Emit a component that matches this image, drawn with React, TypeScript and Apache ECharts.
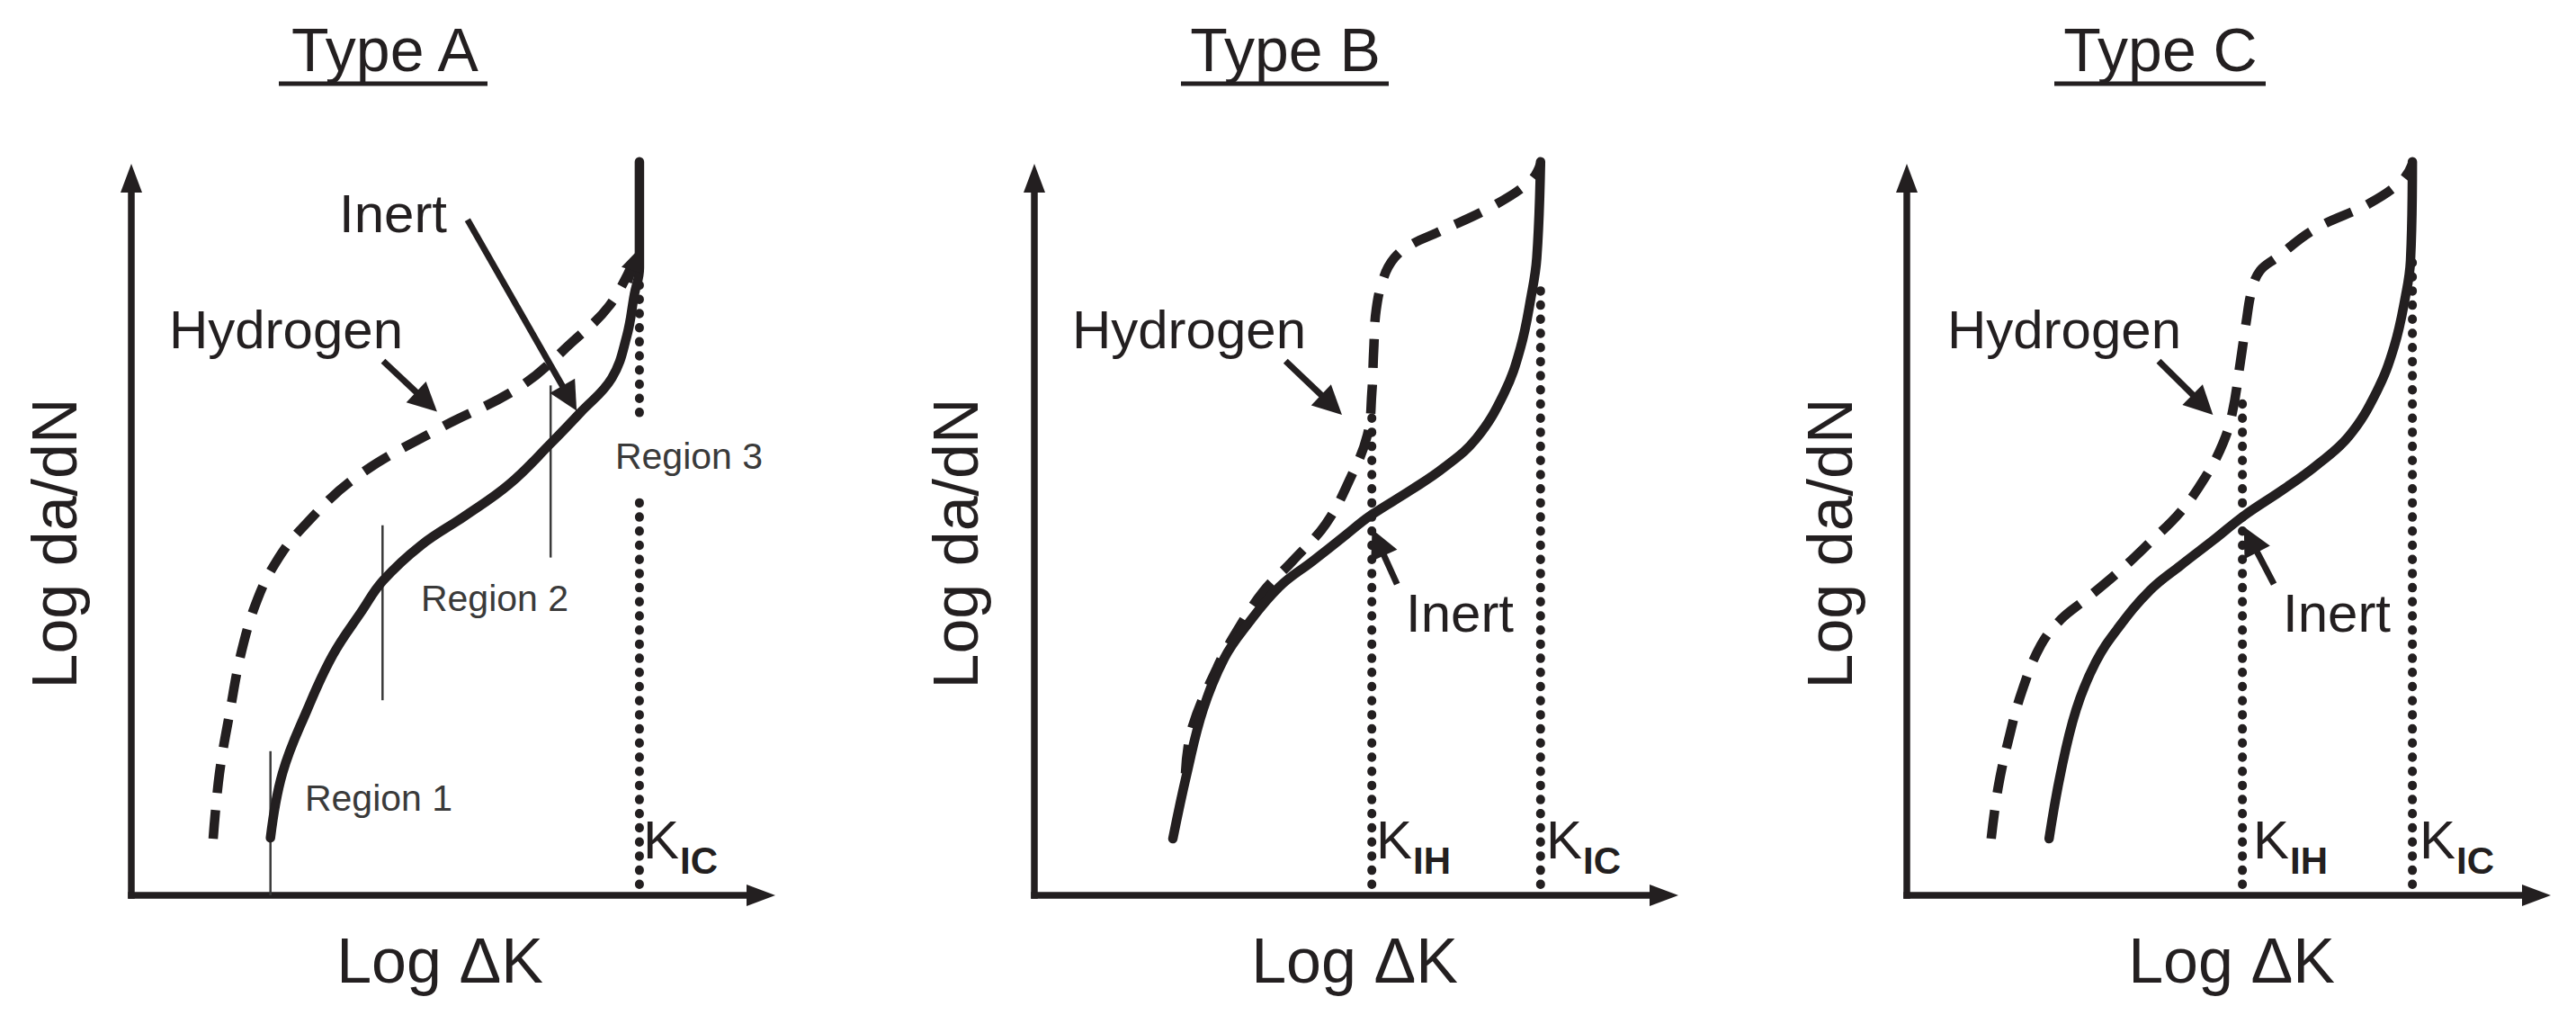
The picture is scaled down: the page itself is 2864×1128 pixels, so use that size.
import React, { useEffect, useRef } from "react";
import * as echarts from "echarts";

const INK = "#231f20";
const FONT = "'Liberation Sans', Arial, Helvetica, sans-serif";

// ---- texts ----
const panelTitles = ["Type A", "Type B", "Type C"];
const xAxisName = "Log ΔK";
const yAxisName = "Log da/dN";
const hydrogenLabel = "Hydrogen";
const inertLabel = "Inert";
const regionLabels = ["Region 1", "Region 2", "Region 3"];

// ---- data (arbitrary 0–100 units on both log axes) ----
// Type A
const inertA = [
  [22.1, 8.0], [24.0, 17.0], [27.9, 25.8], [32.0, 33.5], [36.5, 39.5], [40.0, 43.9],
  [46.0, 48.8], [53.0, 52.9], [60.0, 57.3], [66.6, 63.0], [71.3, 67.3], [76.3, 72.1],
  [78.7, 78.0], [79.9, 83.8], [80.7, 87.5], [80.7, 102.3],
];
const hydrogenA = [
  [13.0, 7.9], [14.0, 17.0], [15.7, 25.8], [17.5, 34.0], [20.0, 41.2], [23.0, 46.5],
  [27.0, 51.1], [35.7, 58.3], [48.7, 65.0], [61.7, 70.9], [70.1, 77.2], [75.9, 82.2],
  [79.6, 88.0],
];
const hydrogenAEnd = [[[78.9, 85.5], [80.0, 88.6]]];
const dottedA = [
  [[80.7, 1.5], [80.7, 55.6]],
  [[80.7, 67.3], [80.7, 86.0]],
];
const regionLinesA = [
  [[22.1, 0], [22.1, 20.1]],
  [[39.9, 27.2], [39.9, 51.6]],
  [[66.6, 47.1], [66.6, 71.1]],
];
const arrowsA = [
  [[40.0, 74.5], [46.9, 68.8]],
  [[53.4, 94.2], [69.6, 69.3]],
];

// Type B
const inertB = [
  [22.0, 7.9], [24.2, 16.9], [26.8, 25.9], [30.2, 33.1], [33.7, 37.6], [38.9, 43.0],
  [44.2, 46.6], [49.4, 50.2], [53.3, 52.9], [59.8, 56.5], [65.0, 59.6], [70.2, 63.7],
  [74.6, 70.0], [77.2, 76.3], [78.9, 83.5], [79.8, 88.9], [80.4, 102.3],
];
const hydrogenB = [
  [24.0, 17.0], [25.0, 23.2], [29.0, 31.7], [32.0, 36.6], [36.3, 42.3], [41.0, 46.6],
  [46.3, 51.8], [50.1, 58.0], [52.9, 64.2], [53.6, 70.1], [53.9, 76.0], [54.3, 81.7],
  [55.5, 86.2], [57.2, 88.9], [59.8, 90.7], [64.2, 92.5], [72.8, 96.1], [78.9, 99.7],
  [80.4, 102.0],
];
const dottedB = [
  [[53.6, 1.5], [53.6, 67.1]],
  [[80.4, 1.5], [80.4, 85.3]],
];
const arrowsB = [
  [[39.9, 74.5], [47.2, 68.4]],
  [[57.6, 43.4], [54.6, 49.2]],
];

// Type C
const inertC = [
  [22.6, 7.9], [24.4, 16.9], [26.9, 25.9], [30.0, 32.5], [33.5, 37.2], [38.6, 42.5],
  [43.5, 46.0], [48.8, 49.6], [53.5, 52.9], [59.8, 56.6], [65.0, 59.9], [70.2, 64.0],
  [74.6, 70.2], [77.4, 76.5], [79.2, 83.5], [80.0, 88.5], [80.3, 102.3],
];
const hydrogenC = [
  [13.4, 7.9], [14.5, 15.0], [16.1, 21.5], [18.3, 28.5], [21.3, 34.9], [24.5, 38.5],
  [28.3, 41.2], [33.5, 45.0], [38.7, 49.3], [43.5, 53.5], [47.4, 58.3], [50.2, 63.0],
  [51.7, 67.3], [53.0, 74.5], [53.9, 79.9], [54.8, 84.4], [56.1, 87.1], [58.7, 88.9],
  [64.8, 92.9], [73.5, 96.5], [78.7, 99.7], [80.3, 102.0],
];
const dottedC = [
  [[53.3, 1.5], [53.3, 70.0]],
  [[80.3, 1.5], [80.3, 88.8]],
];
const arrowsC = [
  [[40.0, 74.5], [47.0, 68.4]],
  [[58.3, 43.4], [54.6, 49.6]],
];

// ---- layout ----
const GRID_LEFTS = [146, 1150, 2120];
const GRID_TOP = 198;
const GRID_W = 700;
const GRID_H = 797;
const TITLE_X = [428, 1429, 2402];
const UNDERLINES = [[310, 542], [1313, 1544], [2284, 2519]];
const YNAME_X = [61, 1063, 2035];
const XNAME_X = [489, 1506, 2481];
const HYD_POS = [[318, 366], [1322, 366], [2295, 366]];
const INERT_POS = [[437, 237], [1623, 681], [2598, 681]];
const REGION_POS = [[421, 887], [550, 665], [766, 507]];
const K_LABELS = [
  [715, "IC"], [1530, "IH"], [1719, "IC"], [2505, "IH"], [2690, "IC"],
];

function txt(text: string, x: number, y: number, size: number, extra: any = {}, rotation = 0) {
  return {
    type: "text",
    x,
    y,
    rotation,
    silent: true,
    style: {
      text,
      fontSize: size,
      fontFamily: FONT,
      fill: INK,
      textFill: INK,
      align: "center",
      textAlign: "center",
      verticalAlign: "middle",
      textVerticalAlign: "middle",
      ...extra,
    },
  };
}

function buildOption() {
  const panels = [
    { inert: inertA, hydrogen: hydrogenA, dotted: dottedA, regions: regionLinesA, arrows: arrowsA, extraArrows: hydrogenAEnd },
    { inert: inertB, hydrogen: hydrogenB, dotted: dottedB, regions: [], arrows: arrowsB, extraArrows: [] },
    { inert: inertC, hydrogen: hydrogenC, dotted: dottedC, regions: [], arrows: arrowsC, extraArrows: [] },
  ];

  const grid = GRID_LEFTS.map((left) => ({ left, top: GRID_TOP, width: GRID_W, height: GRID_H }));
  const axisBase = (i: number) => ({
    type: "value",
    gridIndex: i,
    min: 0,
    max: 100,
    axisTick: { show: false },
    axisLabel: { show: false },
    splitLine: { show: false },
    axisLine: {
      show: true,
      onZero: false,
      symbol: ["none", "triangle"],
      symbolSize: [24, 32],
      lineStyle: { color: INK, width: 7.5, cap: "square" },
    },
  });
  const xAxis = grid.map((_, i) => axisBase(i));
  const yAxis = grid.map((_, i) => axisBase(i));

  const series: any[] = [];
  panels.forEach((p, i) => {
    const common = { xAxisIndex: i, yAxisIndex: i, silent: true, clip: false, symbol: "none", showSymbol: false, animation: false };
    series.push({
      ...common,
      type: "line",
      name: "Inert",
      data: p.inert,
      smooth: 0.4,
      z: 5,
      lineStyle: { color: INK, width: 10.5, cap: "round", join: "round" },
    });
    series.push({
      ...common,
      type: "line",
      name: "Hydrogen",
      data: p.hydrogen,
      smooth: 0.4,
      z: 4,
      lineStyle: { color: INK, width: 10.5, type: [32, 19], cap: "butt" },
    });
    p.dotted.forEach((seg) =>
      series.push({
        ...common,
        type: "line",
        data: seg,
        z: 3,
        lineStyle: { color: INK, width: 10, type: [0.5, 15.2], cap: "round" },
      })
    );
    p.regions.forEach((seg) =>
      series.push({
        ...common,
        type: "line",
        data: seg,
        z: 3,
        lineStyle: { color: "#3a3a3a", width: 2.5 },
      })
    );
    series.push({
      type: "lines",
      coordinateSystem: "cartesian2d",
      xAxisIndex: i,
      yAxisIndex: i,
      silent: true,
      z: 6,
      symbol: ["none", "triangle"],
      symbolSize: 32,
      lineStyle: { color: INK, width: 7, opacity: 1, curveness: 0 },
      data: p.arrows.map((c) => ({ coords: c })),
    });
    if (p.extraArrows.length) {
      series.push({
        type: "lines",
        coordinateSystem: "cartesian2d",
        xAxisIndex: i,
        yAxisIndex: i,
        silent: true,
        z: 6,
        symbol: ["none", "triangle"],
        symbolSize: 24,
        lineStyle: { color: INK, width: 9, opacity: 1, curveness: 0 },
        data: p.extraArrows.map((c) => ({ coords: c })),
      });
    }
  });

  const graphic: any[] = [];
  panelTitles.forEach((t, i) => {
    graphic.push(txt(t, TITLE_X[i], 55, 68));
    graphic.push({
      type: "line",
      silent: true,
      shape: { x1: UNDERLINES[i][0], y1: 93, x2: UNDERLINES[i][1], y2: 93 },
      style: { stroke: INK, lineWidth: 5 },
    });
    graphic.push(txt(yAxisName, YNAME_X[i], 604, 70, {}, Math.PI / 2));
    graphic.push(txt(xAxisName, XNAME_X[i], 1068, 70));
    graphic.push(txt(hydrogenLabel, HYD_POS[i][0], HYD_POS[i][1], 60));
    graphic.push(txt(inertLabel, INERT_POS[i][0], INERT_POS[i][1], 60));
  });
  regionLabels.forEach((r, i) => {
    graphic.push(txt(r, REGION_POS[i][0], REGION_POS[i][1], 41, { fill: "#3a3a3a", textFill: "#3a3a3a" }));
  });
  K_LABELS.forEach(([x, sub]) => {
    graphic.push(txt("K", x as number, 933, 60, { align: "left", textAlign: "left" }));
    graphic.push(
      txt(sub as string, (x as number) + 41, 956, 42, { align: "left", textAlign: "left", fontWeight: "bold" })
    );
  });

  return {
    animation: false,
    backgroundColor: "#ffffff",
    textStyle: { fontFamily: FONT },
    grid,
    xAxis,
    yAxis,
    series,
    graphic,
  };
}

export default function App() {
  const ref = useRef<HTMLDivElement>(null);
  useEffect(() => {
    if (!ref.current) return;
    const chart = echarts.init(ref.current, undefined, { renderer: "svg" });
    chart.setOption(buildOption() as any);
    return () => chart.dispose();
  }, []);
  return (
    <div
      ref={ref}
      style={{ position: "fixed", left: 0, top: 0, width: 2864, height: 1128, background: "#fff" }}
    />
  );
}
